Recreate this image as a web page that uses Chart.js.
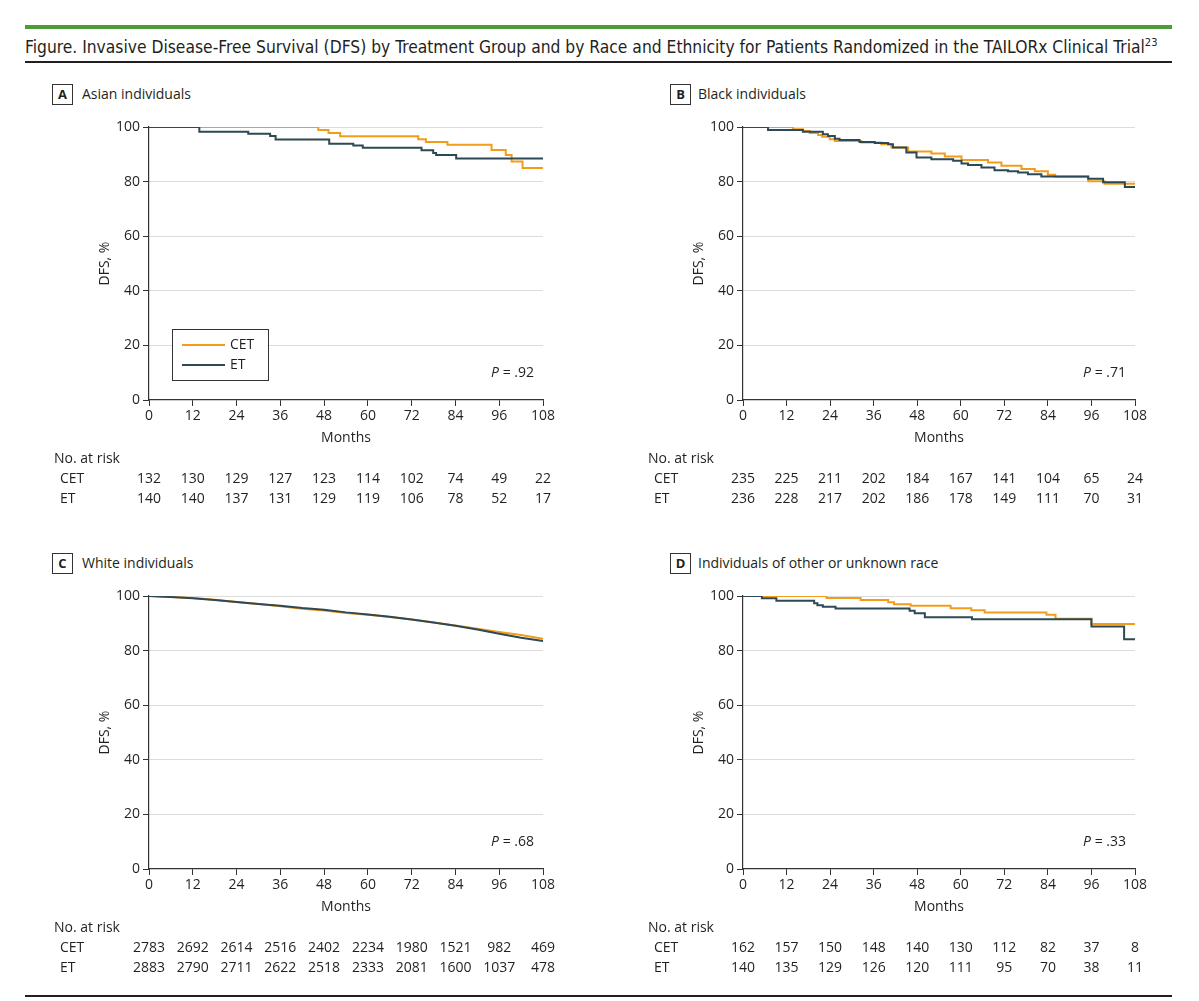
<!DOCTYPE html>
<html>
<head>
<meta charset="utf-8">
<script src="https://cdn.jsdelivr.net/npm/chart.js@4.4.1/dist/chart.umd.min.js"></script>
<style>
    html, body { margin: 0; padding: 0; background: #fff; }
    body { width: 1199px; height: 1001px; position: relative; overflow: hidden; color: #231f20; font-family: "Open Sans", sans-serif; }
    .greenbar { position: absolute; left: 25px; top: 25px; width: 1147px; height: 4px; background: #4c9c3a; }
    .fig-title { position: absolute; left: 25px; top: 36px; font-family: "Liberation Sans Narrow", "DejaVu Sans Condensed", sans-serif; font-size: 17.3px; white-space: nowrap; }
    .fig-title sup { font-size: 11px; }
    .rule { position: absolute; left: 25px; width: 1147px; height: 2px; background: #231f20; }
    .plabel { position: absolute; width: 19px; height: 19px; border: 1px solid #333; font-weight: bold; font-size: 13px; line-height: 19px; text-align: center; }
    .ptext { position: absolute; font-size: 14px; line-height: 20px; white-space: nowrap; }
    canvas { position: absolute; }
</style>
</head>
<body>
<div class="greenbar"></div>
<div class="fig-title">Figure. Invasive Disease-Free Survival (DFS) by Treatment Group and by Race and Ethnicity for Patients Randomized in the TAILORx Clinical Trial<sup>23</sup></div>
<div class="rule" style="top:61px"></div>
<div class="rule" style="top:995px"></div>

<div class="plabel" style="left:52px;top:84px">A</div><div class="ptext" style="left:82px;top:84px">Asian individuals</div>
<div class="plabel" style="left:670px;top:84px">B</div><div class="ptext" style="left:698px;top:84px">Black individuals</div>
<div class="plabel" style="left:52px;top:553px">C</div><div class="ptext" style="left:82px;top:553px">White individuals</div>
<div class="plabel" style="left:670px;top:553px">D</div><div class="ptext" style="left:698px;top:553px">Individuals of other or unknown race</div>

<canvas id="chart-a" width="550" height="420" style="left:40px;top:105px"></canvas>
<canvas id="chart-b" width="550" height="420" style="left:634px;top:105px"></canvas>
<canvas id="chart-c" width="550" height="420" style="left:40px;top:574px"></canvas>
<canvas id="chart-d" width="550" height="420" style="left:634px;top:574px"></canvas>

<script>
// Tick months shared by all panels
const monthTicks = [0, 12, 24, 36, 48, 60, 72, 84, 96, 108];

// A: Asian individuals
const asianCetMonths = [0, 46.4, 49.2, 52.4, 73.8, 75.9, 81.8, 93.9, 97.8, 99.4, 102.4, 108];
const asianCetDfs    = [100, 98.9, 97.8, 96.6, 95.5, 94.5, 93.5, 91.6, 89.7, 87.4, 85.0, 85.0];
const asianEtMonths  = [0, 13.8, 27.2, 33.2, 34.7, 49.4, 56.0, 58.6, 74.7, 77.9, 78.7, 84.2, 108];
const asianEtDfs     = [100, 98.3, 97.5, 96.7, 95.4, 93.9, 93.2, 92.4, 91.5, 90.5, 89.7, 88.5, 88.5];
const asianCetRisk   = [132, 130, 129, 127, 123, 114, 102, 74, 49, 22];
const asianEtRisk    = [140, 140, 137, 131, 129, 119, 106, 78, 52, 17];

// B: Black individuals
const blackCetMonths = [0, 13.8, 16.5, 18.4, 20.7, 21.8, 23.9, 25.3, 32.6, 38.1, 40.9, 45.5, 51.9, 55.6, 60.2, 67.5, 71.2, 76.7, 80.4, 84.0, 86.0, 95.1, 99.6, 108];
const blackCetDfs    = [100, 99.2, 98.5, 97.8, 97.1, 96.4, 95.5, 94.9, 94.3, 93.7, 92.5, 91.0, 90.3, 89.2, 87.9, 87.0, 85.8, 84.6, 83.8, 82.5, 81.8, 80.1, 79.2, 79.2];
const blackEtMonths  = [0, 6.9, 16.5, 22.0, 23.4, 25.3, 26.6, 32.1, 36.3, 40.0, 41.3, 45.0, 47.8, 51.9, 57.9, 60.2, 62.0, 65.7, 69.3, 73.0, 75.8, 78.5, 82.2, 95.1, 99.2, 105.2, 108];
const blackEtDfs     = [100, 98.9, 98.3, 97.3, 96.7, 95.7, 95.2, 94.5, 94.1, 93.7, 92.5, 90.7, 88.8, 88.2, 87.6, 86.6, 86.1, 85.2, 84.2, 83.8, 83.3, 82.7, 81.9, 81.0, 79.8, 78.0, 78.0];
const blackCetRisk   = [235, 225, 211, 202, 184, 167, 141, 104, 65, 24];
const blackEtRisk    = [236, 228, 217, 202, 186, 178, 149, 111, 70, 31];

// C: White individuals (large groups, read every 6 months)
const whiteMonths    = [0, 6, 12, 18, 24, 30, 36, 42, 48, 54, 60, 66, 72, 78, 84, 90, 96, 102, 108];
const whiteCetDfs    = [100, 99.6, 99.3, 98.6, 97.8, 97.1, 96.2, 95.3, 94.7, 93.8, 93.1, 92.3, 91.4, 90.3, 89.2, 88.0, 86.8, 85.7, 84.3];
const whiteEtDfs     = [100, 99.6, 99.2, 98.5, 97.8, 97.1, 96.4, 95.6, 95.0, 94.0, 93.2, 92.4, 91.4, 90.3, 89.1, 87.7, 86.2, 84.7, 83.5];
const whiteCetRisk   = [2783, 2692, 2614, 2516, 2402, 2234, 1980, 1521, 982, 469];
const whiteEtRisk    = [2883, 2790, 2711, 2622, 2518, 2333, 2081, 1600, 1037, 478];

// D: Other or unknown race
const otherCetMonths = [0, 23.0, 32.4, 40.0, 41.6, 46.2, 57.2, 62.9, 66.6, 83.6, 86.1, 96.0, 108];
const otherCetDfs    = [100, 99.3, 98.5, 97.7, 97.0, 96.4, 95.5, 94.8, 94.0, 93.1, 91.7, 89.7, 89.7];
const otherEtMonths  = [0, 5.2, 9.2, 19.6, 20.5, 22.0, 25.5, 45.9, 47.3, 50.1, 63.1, 96.0, 105.0, 108];
const otherEtDfs     = [100, 99.2, 98.3, 97.3, 96.6, 96.1, 95.4, 94.6, 93.7, 92.2, 91.5, 88.8, 84.2, 84.2];
const otherCetRisk   = [162, 157, 150, 148, 140, 130, 112, 82, 37, 8];
const otherEtRisk    = [140, 135, 129, 126, 120, 111, 95, 70, 38, 11];

const colors = { cet: '#f39c1b', et: '#2d4955' };
const textColor = '#231f20';
const fontFamily = '"Open Sans", sans-serif';

function toPoints(months, values) {
    return months.map((m, i) => ({ x: m, y: values[i] }));
}

// Draws legend (optional), P value and the number-at-risk table
const annotations = {
    id: 'kmAnnotations',
    afterDraw(chart, args, opts) {
        const ctx = chart.ctx;
        const area = chart.chartArea;
        const xScale = chart.scales.x;
        ctx.save();
        ctx.fillStyle = textColor;
        ctx.font = '14px ' + fontFamily;
        ctx.textBaseline = 'middle';

        // P value
        ctx.textAlign = 'right';
        const rest = ' = ' + opts.p;
        const px = area.right - 9;
        const py = area.bottom - 27;
        ctx.fillText(rest, px, py);
        const restW = ctx.measureText(rest).width;
        ctx.font = 'italic 14px ' + fontFamily;
        ctx.fillText('P', px - restW, py);
        ctx.font = '14px ' + fontFamily;

        // Legend box
        if (opts.legend) {
            const bx = area.left + 23, by = area.top + 202;
            ctx.strokeStyle = '#333';
            ctx.lineWidth = 1;
            ctx.fillStyle = '#fff';
            ctx.fillRect(bx, by, 96, 51);
            ctx.strokeRect(bx + 0.5, by + 0.5, 96, 51);
            const items = chart.data.datasets.slice().sort((a, b) => b.order - a.order);
            items.forEach((ds, i) => {
                const ly = by + 16 + i * 20;
                ctx.strokeStyle = ds.borderColor;
                ctx.lineWidth = 2;
                ctx.beginPath();
                ctx.moveTo(bx + 10, ly);
                ctx.lineTo(bx + 53, ly);
                ctx.stroke();
                ctx.fillStyle = textColor;
                ctx.textAlign = 'left';
                ctx.fillText(ds.label, bx + 58, ly);
            });
        }

        // Number at risk
        ctx.fillStyle = textColor;
        ctx.textAlign = 'left';
        ctx.fillText('No. at risk', area.left - 95, area.bottom + 59);
        ctx.fillText('CET', area.left - 89, area.bottom + 79);
        ctx.fillText('ET', area.left - 89, area.bottom + 99);
        ctx.textAlign = 'center';
        monthTicks.forEach((m, i) => {
            const x = xScale.getPixelForValue(m);
            ctx.fillText(String(opts.cetRisk[i]), x, area.bottom + 79);
            ctx.fillText(String(opts.etRisk[i]), x, area.bottom + 99);
        });
        ctx.restore();
    }
};

function createChart(id, cetData, etData, stepped, panel) {
    const el = document.getElementById(id);
    return new Chart(el, {
        type: 'line',
        data: {
            datasets: [
                { label: 'CET', data: cetData, borderColor: colors.cet, borderWidth: 2, pointRadius: 0, stepped: stepped, fill: false, order: 1 },
                { label: 'ET', data: etData, borderColor: colors.et, borderWidth: 2, pointRadius: 0, stepped: stepped, fill: false, order: 0 }
            ]
        },
        options: {
            responsive: false,
            animation: false,
            devicePixelRatio: 1,
            layout: { padding: { left: 57, top: 22, right: panel.rightPad, bottom: 79 } },
            plugins: {
                legend: { display: false },
                tooltip: { enabled: false },
                kmAnnotations: panel
            },
            scales: {
                x: {
                    type: 'linear',
                    min: 0,
                    max: 108,
                    afterFit: s => { s.height = 46; },
                    afterBuildTicks: s => { s.ticks = monthTicks.map(v => ({ value: v })); },
                    ticks: { color: textColor, font: { family: fontFamily, size: 14 }, padding: 2, maxRotation: 0 },
                    grid: { drawOnChartArea: false, drawTicks: true, tickLength: 6, tickColor: '#333' },
                    border: { color: '#333', width: 1.2 },
                    title: { display: true, text: 'Months', color: textColor, font: { family: fontFamily, size: 14 }, padding: 0 }
                },
                y: {
                    min: 0,
                    max: 100,
                    afterFit: s => { s.width = 52; },
                    ticks: { stepSize: 20, color: textColor, font: { family: fontFamily, size: 14 }, padding: 3 },
                    grid: {
                        color: c => (c.tick && c.tick.value === 0 ? 'rgba(0,0,0,0)' : '#dcdcdc'),
                        lineWidth: 1,
                        drawTicks: true,
                        tickLength: 6,
                        tickColor: '#333'
                    },
                    border: { color: '#333', width: 1.2 },
                    title: { display: true, text: 'DFS, %', color: textColor, font: { family: fontFamily, size: 14 }, padding: 0 }
                }
            }
        },
        plugins: [annotations]
    });
}

createChart('chart-a', toPoints(asianCetMonths, asianCetDfs), toPoints(asianEtMonths, asianEtDfs), true,
    { p: '.92', legend: true, cetRisk: asianCetRisk, etRisk: asianEtRisk, rightPad: 47 });
createChart('chart-b', toPoints(blackCetMonths, blackCetDfs), toPoints(blackEtMonths, blackEtDfs), true,
    { p: '.71', legend: false, cetRisk: blackCetRisk, etRisk: blackEtRisk, rightPad: 49 });
createChart('chart-c', toPoints(whiteMonths, whiteCetDfs), toPoints(whiteMonths, whiteEtDfs), false,
    { p: '.68', legend: false, cetRisk: whiteCetRisk, etRisk: whiteEtRisk, rightPad: 47 });
createChart('chart-d', toPoints(otherCetMonths, otherCetDfs), toPoints(otherEtMonths, otherEtDfs), true,
    { p: '.33', legend: false, cetRisk: otherCetRisk, etRisk: otherEtRisk, rightPad: 49 });
</script>
</body>
</html>
